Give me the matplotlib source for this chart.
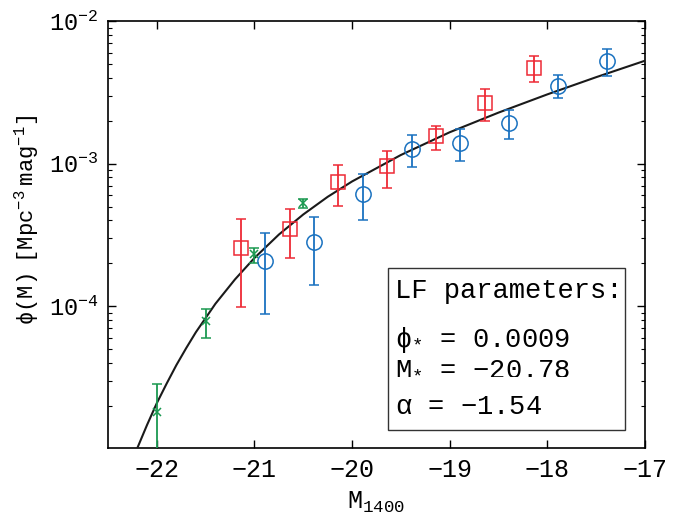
import numpy as np
import matplotlib.pyplot as plt
from matplotlib.patches import Rectangle

plt.rcParams['font.family'] = ['Liberation Mono', 'DejaVu Sans']
plt.rcParams['mathtext.fontset'] = 'custom'
plt.rcParams['mathtext.rm'] = 'Liberation Mono'
plt.rcParams['mathtext.it'] = 'Liberation Mono'
plt.rcParams['mathtext.bf'] = 'Liberation Mono'

# green crosses
m_g = [-22.0, -21.5, -21.0, -20.5]
phi_g = [1.82e-5, 7.9e-5, 2.31e-4, 5.29e-4]
lo_g = [5.0e-6, 6.0e-5, 2.01e-4, 4.92e-4]
hi_g = [2.84e-5, 9.6e-5, 2.57e-4, 5.65e-4]

# red squares
m_r = [-21.14, -20.64, -20.14, -19.64, -19.14, -18.64, -18.14]
phi_r = [2.54e-4, 3.5e-4, 7.4e-4, 9.6e-4, 1.55e-3, 2.67e-3, 4.71e-3]
lo_r = [9.9e-5, 2.18e-4, 5.05e-4, 6.75e-4, 1.25e-3, 1.99e-3, 3.71e-3]
hi_r = [4.12e-4, 4.81e-4, 9.78e-4, 1.23e-3, 1.83e-3, 3.33e-3, 5.68e-3]

# blue circles
m_b = [-20.89, -20.39, -19.89, -19.39, -18.89, -18.39, -17.89, -17.39]
phi_b = [2.09e-4, 2.82e-4, 6.16e-4, 1.26e-3, 1.40e-3, 1.94e-3, 3.52e-3, 5.27e-3]
lo_b = [8.8e-5, 1.40e-4, 4.03e-4, 9.47e-4, 1.04e-3, 1.50e-3, 2.87e-3, 4.14e-3]
hi_b = [3.27e-4, 4.21e-4, 8.41e-4, 1.58e-3, 1.75e-3, 2.39e-3, 4.18e-3, 6.37e-3]

# fitted LF curve
m_fit = [-22.25, -22.2, -22.1, -22.0, -21.9, -21.8, -21.7, -21.6, -21.4, -21.2, -21.0,
         -20.75, -20.5, -20.25, -20.0, -19.5, -19.0, -18.5, -18.0, -17.5, -17.0]
phi_fit = [8.3e-6, 1.01e-5, 1.47e-5, 2.09e-5, 2.86e-5, 3.86e-5, 5.07e-5, 6.57e-5, 1.04e-4,
           1.54e-4, 2.18e-4, 3.18e-4, 4.40e-4, 5.85e-4, 7.50e-4, 1.15e-3, 1.66e-3, 2.28e-3,
           3.06e-3, 4.04e-3, 5.27e-3]

green = '#1a9850'
red = '#ee2a35'
blue = '#1a72c0'

fig = plt.figure(figsize=(6.75, 5.26), dpi=100)
ax = fig.add_axes([0.160, 0.148, 0.7956, 0.812])

ax.plot(m_fit, phi_fit, color='#1a1a1a', lw=1.5, zorder=3)

def eb(m, phi, lo, hi, col, mk, ms):
    phi = np.array(phi)
    err = [phi - np.array(lo), np.array(hi) - phi]
    ax.errorbar(m, phi, yerr=err, fmt=mk, color=col, ecolor=col, ms=ms,
                mfc='none', mew=1.1, elinewidth=1.3, capsize=3.5, capthick=1.3,
                zorder=4)

eb(m_g, phi_g, lo_g, hi_g, green, 'x', 6)
eb(m_r, phi_r, lo_r, hi_r, red, 's', 10)
eb(m_b, phi_b, lo_b, hi_b, blue, 'o', 11)

ax.set_yscale('log')
ax.set_xlim(-22.5, -17)
ax.set_ylim(1.01e-5, 1e-2)
ax.set_xticks([-22, -21, -20, -19, -18, -17])
ax.tick_params(which='both', direction='in', top=True, right=True, labelsize=18)
ax.tick_params(axis='y', labelsize=17)
ax.tick_params(which='major', length=6, width=1, pad=7)
ax.tick_params(which='minor', length=3, width=0.8)
ax.tick_params(axis='x', which='minor', bottom=False, top=False)
for s in ax.spines.values():
    s.set_linewidth(1.2)

ax.set_xlabel(r'M$_{\mathrm{1400}}$', fontsize=18, labelpad=6)
ax.set_ylabel(r'$\phi\mathrm{(M)\ \ [Mpc^{-3}\ mag^{-1}]}$', fontsize=16)
ax.yaxis.set_label_coords(-0.125, 0.534)

# parameter box
ax.add_patch(Rectangle((0.521, 0.042), 0.441, 0.38, transform=ax.transAxes,
                       fc='white', ec='#333333', lw=1.0, zorder=6))
tx = 0.534
kw = dict(transform=ax.transAxes, fontsize=19.5, va='center', ha='left', zorder=7)
ax.text(tx, 0.368, 'LF parameters:', **kw)
ax.text(tx, 0.253, r'$\phi_{*}$ = 0.0009', **kw)
ax.text(tx, 0.190, r'M$_{*}$ = $-$20.78', **kw)
ax.text(tx, 0.096, r'$\alpha$ = $-$1.54', **kw)

fig.savefig('out.png', dpi=100)
